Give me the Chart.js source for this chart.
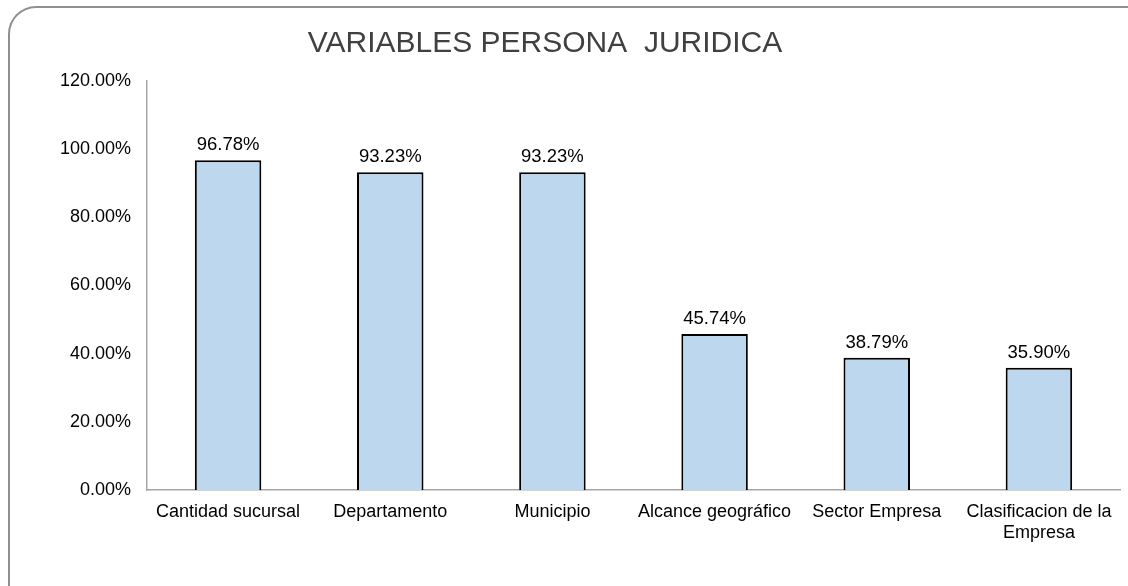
<!DOCTYPE html>
<html>
<head>
<meta charset="utf-8">
<script src="https://cdn.jsdelivr.net/npm/chart.js@4.4.1/dist/chart.umd.min.js"></script>
<style>
  html, body { margin: 0; padding: 0; background: #fff; overflow: hidden; }
  #wrap { position: relative; width: 1128px; height: 586px; }
  #frame { position: absolute; left: 8px; top: 6px; width: 1300px; height: 800px;
    border-top: 2px solid #8f8f8f; border-left: 2px solid #8f8f8f; border-top-left-radius: 28px; }
  canvas { position: absolute; left: 0; top: 0; }
</style>
</head>
<body>
<div id="wrap">
  <div id="frame"></div>
  <canvas id="c" width="1128" height="586"></canvas>
</div>
<script>
const chartTitle = "VARIABLES PERSONA  JURIDICA";
const categories = [
  "Cantidad sucursal",
  "Departamento",
  "Municipio",
  "Alcance geográfico",
  "Sector Empresa",
  ["Clasificacion de la", "Empresa"]
];
const values = [96.78, 93.23, 93.23, 45.74, 38.79, 35.90];
const yTicks = [0, 20, 40, 60, 80, 100, 120];

const FONT = "'Liberation Sans', Arial, sans-serif";

const titlePlugin = {
  id: 'fixedTitle',
  afterDraw(chart) {
    const ctx = chart.ctx;
    ctx.save();
    ctx.font = "30px " + FONT;
    ctx.fillStyle = "#404040";
    ctx.textAlign = "center";
    ctx.textBaseline = "alphabetic";
    ctx.fillText(chartTitle, 545, 52);
    ctx.restore();
  }
};

const valueLabels = {
  id: 'valueLabels',
  afterDatasetsDraw(chart) {
    const ctx = chart.ctx;
    const meta = chart.getDatasetMeta(0);
    ctx.save();
    ctx.font = "18.5px " + FONT;
    ctx.fillStyle = "#000";
    ctx.textAlign = "center";
    ctx.textBaseline = "alphabetic";
    meta.data.forEach((bar, i) => {
      ctx.fillText(values[i].toFixed(2) + "%", bar.x, bar.y - 10);
    });
    ctx.restore();
  }
};

new Chart(document.getElementById('c'), {
  type: 'bar',
  data: {
    labels: categories,
    datasets: [{
      data: values,
      backgroundColor: '#BDD7EE',
      borderColor: '#000000',
      borderWidth: 2,
      borderSkipped: 'bottom',
      barPercentage: 0.41,
      categoryPercentage: 1.0
    }]
  },
  options: {
    responsive: false,
    animation: false,
    events: [],
    layout: { padding: { top: 81, right: 8, left: 0, bottom: 0 } },
    plugins: { legend: { display: false }, title: { display: false }, tooltip: { enabled: false } },
    scales: {
      x: {
        grid: { display: false, drawTicks: false },
        border: { display: true, color: '#a6a6a6', width: 1.5 },
        ticks: { color: '#000', font: { family: FONT, size: 18 }, padding: 11, maxRotation: 0, autoSkip: false },
        afterFit(s) { s.height = 96; }
      },
      y: {
        min: 0, max: 120,
        afterBuildTicks(s) { s.ticks = yTicks.map(v => ({ value: v })); },
        grid: { display: false, drawTicks: false },
        border: { display: true, color: '#a6a6a6', width: 1.5 },
        ticks: { color: '#000', font: { family: FONT, size: 18 }, padding: 16,
          callback: v => Number(v).toFixed(2) + '%' },
        afterFit(s) { s.width = 147; }
      }
    }
  },
  plugins: [titlePlugin, valueLabels]
});
</script>
</body>
</html>
